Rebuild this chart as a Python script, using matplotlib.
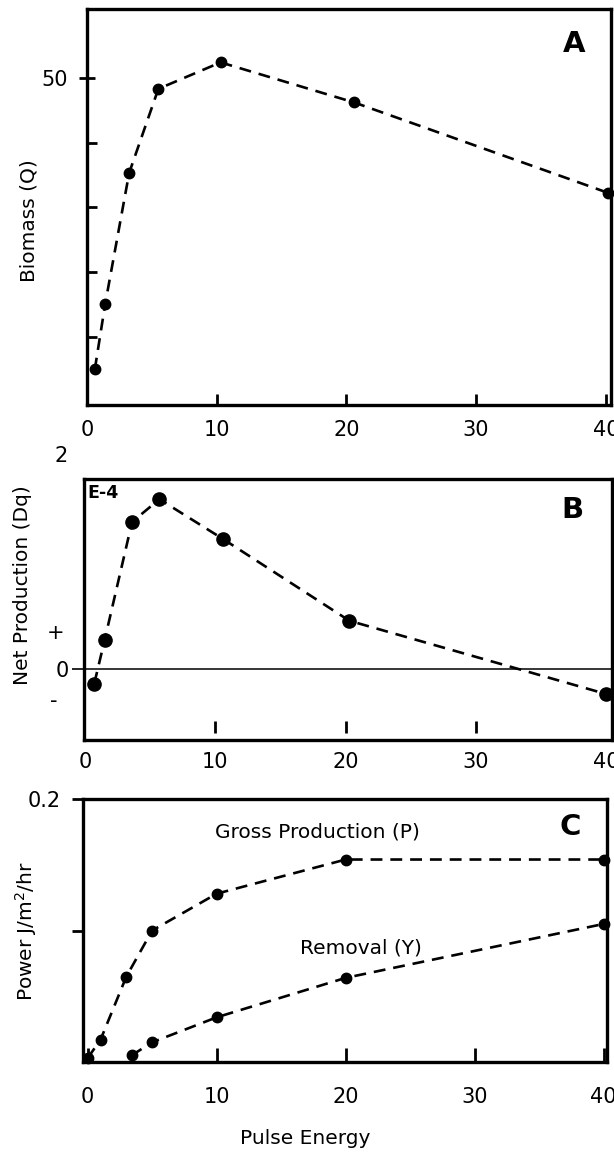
import matplotlib
matplotlib.use('Agg')
import matplotlib.pyplot as plt
import matplotlib.transforms as mtransforms

plt.rcParams['font.family'] = ['DejaVu Sans']

# Panel A: biomass vs pulse energy
xA = [0.6, 1.4, 3.25, 5.5, 10.3, 20.6, 40.2]
biomass = [4.9, 15.0, 35.3, 48.3, 52.4, 46.2, 32.2]

# Panel B: net production (units of 1E-4)
xB = [0.7, 1.5, 3.6, 5.7, 10.6, 20.3, 40.0]
net_prod = [-0.15, 0.31, 1.55, 1.79, 1.37, 0.51, -0.26]

# Panel C: gross production and removal
x_gross = [0, 1, 3, 5, 10, 20, 40]
gross = [0.003, 0.017, 0.065, 0.100, 0.128, 0.154, 0.154]
x_removal = [3.4, 5, 10, 20, 40]
removal = [0.005, 0.015, 0.034, 0.064, 0.105]

xticks = [0, 10, 20, 30, 40]

tick_fs = 15
lab_fs = 14.5
spine_w = 2.4
dash = (0, (4.5, 3))
lw = 1.9

fig = plt.figure(figsize=(6.14, 11.54), dpi=100)

axA = fig.add_axes([0.1417, 0.649, 0.8534, 0.3429])
axB = fig.add_axes([0.1368, 0.3588, 0.8596, 0.2259])
axC = fig.add_axes([0.1352, 0.0797, 0.8534, 0.2279])

for ax in (axA, axB, axC):
    for s in ax.spines.values():
        s.set_linewidth(spine_w)
    ax.set_xticks(xticks)
    ax.set_xticklabels([str(t) for t in xticks], fontsize=tick_fs)

####################
# A: Biomass
####################
axA.plot(xA, biomass, color='black', lw=lw, linestyle=dash, marker='o',
         markersize=7.5, clip_on=False)
axA.set_xlim(0, 40.4)
axA.set_ylim(-0.6, 60.6)
axA.set_yticks([50])
axA.set_yticklabels(['50'], fontsize=tick_fs)
axA.set_yticks([10, 20, 30, 40], minor=True)
axA.tick_params(axis='y', which='major', direction='inout', length=11, width=2, pad=8)
axA.tick_params(axis='y', which='minor', direction='in', length=7, width=2)
axA.tick_params(axis='x', direction='in', length=8, width=2, pad=11)
axA.set_ylabel('Biomass (Q)', fontsize=lab_fs)
axA.yaxis.set_label_coords(-0.092, 0.467)
axA.text(0.929, 0.912, 'A', transform=axA.transAxes, fontsize=21,
         fontweight='bold', ha='center', va='center')

####################
# B: Net production
####################
axB.axhline(0, color='black', lw=1.1)
axB.plot(xB, net_prod, color='black', lw=lw, linestyle=dash, marker='o',
         markersize=9.5, clip_on=False)
axB.set_xlim(-0.09, 40.45)
axB.set_ylim(-0.744, 2.0)
axB.set_yticks([0])
axB.set_yticklabels(['0'], fontsize=tick_fs)
axB.tick_params(axis='y', direction='out', length=9, width=1.2, pad=2)
axB.tick_params(axis='x', length=0, pad=9)
# floating tick marks just above the bottom spine
secB = axB.secondary_xaxis(0.048)
secB.set_xticks([10, 20, 30])
secB.set_xticklabels([])
secB.spines['bottom'].set_visible(False)
secB.tick_params(direction='inout', length=8, width=2)

blendB = mtransforms.blended_transform_factory(axB.transAxes, axB.transData)
axB.text(-0.053, 0.38, '+', transform=blendB, fontsize=tick_fs, ha='center', va='center')
axB.text(-0.058, -0.33, '-', transform=blendB, fontsize=tick_fs, ha='center', va='center')
axB.text(-0.044, 1.089, '2', transform=axB.transAxes, fontsize=tick_fs, ha='center', va='center')
axB.text(0.006, 0.947, 'E-4', transform=axB.transAxes, fontsize=12.5,
         fontweight='bold', ha='left', va='center')
axB.set_ylabel('Net Production (Dq)', fontsize=lab_fs)
axB.yaxis.set_label_coords(-0.098, 0.595)
axB.text(0.925, 0.882, 'B', transform=axB.transAxes, fontsize=21,
         fontweight='bold', ha='center', va='center')

####################
# C: Power
####################
axC.plot(x_gross, gross, color='black', lw=lw, linestyle=dash, marker='o',
         markersize=7.5, clip_on=False)
axC.plot(x_removal, removal, color='black', lw=lw, linestyle=dash, marker='o',
         markersize=7.5, clip_on=False)
axC.set_xlim(-0.36, 40.26)
axC.set_ylim(0, 0.2)
axC.set_yticks([0.1, 0.2])
axC.set_yticklabels(['', '0.2'], fontsize=tick_fs)
axC.tick_params(axis='y', direction='out', length=8, width=2, pad=8)
axC.tick_params(axis='x', direction='in', length=10, width=2, pad=18)
axC.set_ylabel('Power J/m$^2$/hr', fontsize=lab_fs)
axC.yaxis.set_label_coords(-0.084, 0.498)
axC.set_xlabel('Pulse Energy', fontsize=lab_fs)
axC.xaxis.set_label_coords(0.424, -0.255)
axC.text(17.8, 0.175, 'Gross Production (P)', fontsize=lab_fs, ha='center', va='center')
axC.text(21.2, 0.0867, 'Removal (Y)', fontsize=lab_fs, ha='center', va='center')
axC.text(0.929, 0.894, 'C', transform=axC.transAxes, fontsize=21,
         fontweight='bold', ha='center', va='center')

plt.savefig('out.png', dpi=100)
